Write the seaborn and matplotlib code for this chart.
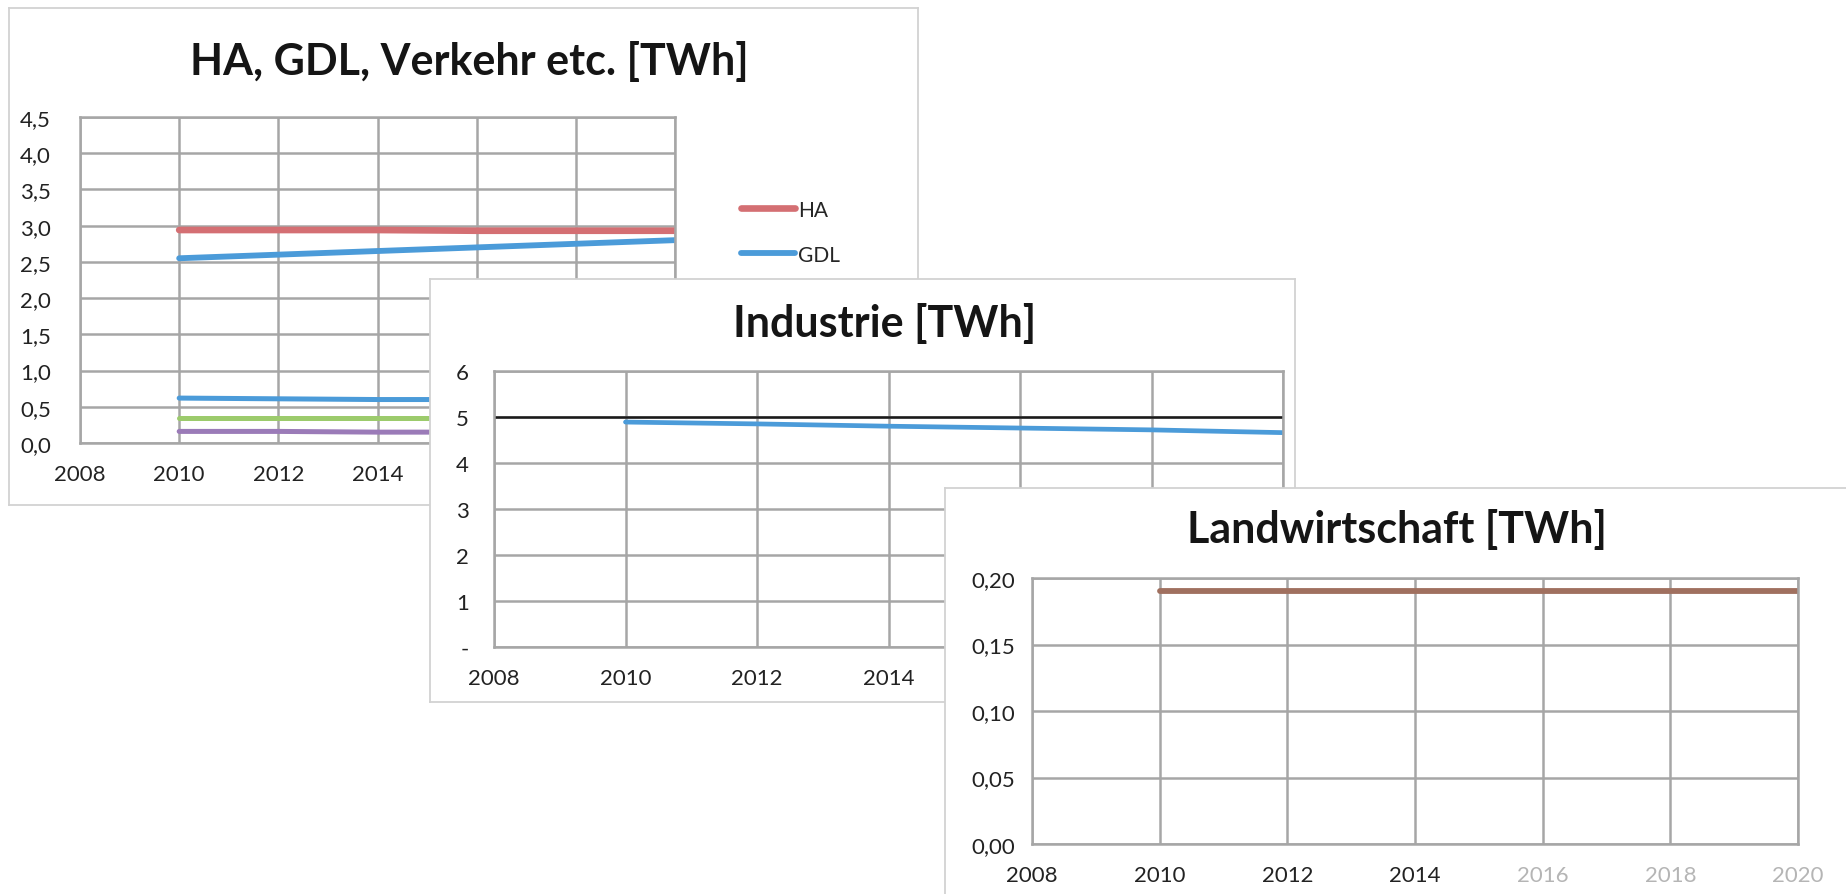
import matplotlib
matplotlib.use("Agg")
import matplotlib.pyplot as plt
import seaborn as sns
from matplotlib.lines import Line2D

# ------------------------------------------
# Daten
# ------------------------------------------
years = [2010, 2012, 2014, 2016, 2018, 2020]
xticks = [2008, 2010, 2012, 2014, 2016, 2018, 2020]

# Chart 1: HA, GDL, Verkehr etc.
ha = [2.94, 2.94, 2.94, 2.93, 2.93, 2.93]
gdl = [2.55, 2.60, 2.65, 2.70, 2.75, 2.80]
verkehr_blau = [0.62, 0.61, 0.60, 0.60, 0.59, 0.59]
verkehr_gruen = [0.34, 0.34, 0.34, 0.34, 0.34, 0.34]
verkehr_lila = [0.16, 0.16, 0.15, 0.15, 0.15, 0.15]
y1_ticks = [0.0, 0.5, 1.0, 1.5, 2.0, 2.5, 3.0, 3.5, 4.0, 4.5]
y1_labels = ["0,0", "0,5", "1,0", "1,5", "2,0", "2,5", "3,0", "3,5", "4,0", "4,5"]

# Chart 2: Industrie
industrie = [4.89, 4.85, 4.80, 4.76, 4.72, 4.66]
industrie_ref = [5.0, 5.0]
industrie_ref_x = [2008, 2020]
y2_ticks = [0, 1, 2, 3, 4, 5, 6]
y2_labels = ["-", "1", "2", "3", "4", "5", "6"]

# Chart 3: Landwirtschaft
landwirtschaft = [0.19, 0.19, 0.19, 0.19, 0.19, 0.19]
y3_ticks = [0.00, 0.05, 0.10, 0.15, 0.20]
y3_labels = ["0,00", "0,05", "0,10", "0,15", "0,20"]

# ------------------------------------------
# Layout
# ------------------------------------------
sns.set_theme(style="white")
plt.rcParams["font.family"] = ["Lato", "DejaVu Sans"]

W, H = 1846, 895
fig = plt.figure(figsize=(W / 100, H / 100), dpi=100)
fig.patch.set_facecolor("white")

GRID = "#A6A6A6"
TXT = "#222222"


def box(l, t, r, b):
    return [l / W, 1 - b / H, (r - l) / W, (b - t) / H]


def panel(l, t, r, b):
    p = fig.add_axes(box(l, t, r, b))
    p.set_facecolor("white")
    p.set_xticks([])
    p.set_yticks([])
    for s in p.spines.values():
        s.set_color("#D2D2D2")
        s.set_linewidth(1.3)
    return p


def plot_area(l, t, r, b, yticks, ylabels, ylim, ypad, n_xlabels=7):
    ax = fig.add_axes(box(l, t, r, b))
    ax.set_facecolor("white")
    ax.set_xlim(2008, 2020)
    ax.set_ylim(*ylim)
    ax.set_xticks(xticks)
    # Beschriftungen, die ohnehin verdeckt sind, bleiben leer
    xl = [str(x) if i < n_xlabels else "" for i, x in enumerate(xticks)]
    ax.set_xticklabels(xl, fontsize=16, color=TXT)
    ax.set_yticks(yticks)
    ax.set_yticklabels(ylabels, fontsize=16, color=TXT)
    ax.tick_params(axis="x", length=0, pad=15)
    ax.tick_params(axis="y", length=0, pad=ypad)
    ax.grid(True, color=GRID, linewidth=1.8)
    for s in ax.spines.values():
        s.set_color(GRID)
        s.set_linewidth(1.8)
    ax.set_xlabel("")
    ax.set_ylabel("")
    return ax


def title(x, y, s):
    fig.text(x / W, 1 - y / H, s, ha="center", va="center",
             fontsize=31, fontweight="bold", color="#151515")


# ------------------------------------------
# Chart 1
# ------------------------------------------
panel(9, 9, 918, 506)
ax1 = plot_area(80, 118, 675, 444, y1_ticks, y1_labels, (0, 4.5), 21, n_xlabels=4)
series1 = [
    (ha, "#D46F73", 4.8),
    (gdl, "#4B9BD9", 4.2),
    (verkehr_blau, "#4B9BD9", 3.6),
    (verkehr_gruen, "#9CCB6C", 3.6),
    (verkehr_lila, "#9B7BB8", 3.6),
]
for vals, col, lw in series1:
    sns.lineplot(x=years, y=vals, ax=ax1, color=col, linewidth=lw)
handles = [Line2D([0], [0], color="#D46F73", lw=4.8),
           Line2D([0], [0], color="#4B9BD9", lw=4.2)]
ax1.legend(handles, ["HA", "GDL"], loc="upper left",
           bbox_to_anchor=(722 / W, 1 - 182 / H), bbox_transform=fig.transFigure,
           frameon=False, fontsize=15, handlelength=2.6, handletextpad=0.15,
           labelspacing=1.2)
title(469, 61, "HA, GDL, Verkehr etc. [TWh]")

# ------------------------------------------
# Chart 2
# ------------------------------------------
panel(430, 280, 1295, 703)
ax2 = plot_area(494, 372, 1283, 648, y2_ticks, y2_labels, (0, 6), 18, n_xlabels=4)
sns.lineplot(x=industrie_ref_x, y=industrie_ref, ax=ax2, color="#1A1A1A", linewidth=1.8)
sns.lineplot(x=years, y=industrie, ax=ax2, color="#4B9BD9", linewidth=3.4)
title(885, 324, "Industrie [TWh]")

# ------------------------------------------
# Chart 3
# ------------------------------------------
panel(945, 489, 1852, 902)
ax3 = plot_area(1032, 579, 1798, 845, y3_ticks, y3_labels, (0, 0.20), 12)
sns.lineplot(x=years, y=landwirtschaft, ax=ax3, color="#A0705F", linewidth=4.2)
for lbl in ax3.get_xticklabels()[4:]:
    lbl.set_color("#B5B5B5")
title(1397, 530, "Landwirtschaft [TWh]")

plt.savefig("out.png", dpi=100)
